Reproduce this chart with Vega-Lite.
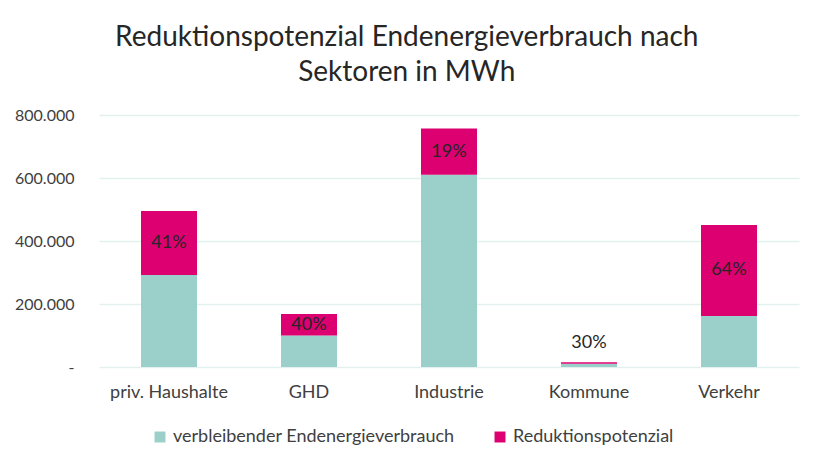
{
  "$schema": "https://vega.github.io/schema/vega-lite/v6.json",
  "width": 700,
  "height": 252,
  "padding": {"left": 14, "top": 24, "right": 20, "bottom": 10},
  "background": "white",
  "config": {
    "font": "Lato",
    "view": {"stroke": null}
  },
  "title": {
    "text": ["Reduktionspotenzial  Endenergieverbrauch  nach", "Sektoren in MWh"],
    "fontSize": 28,
    "fontWeight": "normal",
    "color": "#262626",
    "lineHeight": 35,
    "anchor": "middle",
    "frame": "bounds",
    "offset": 20
  },
  "data": {
    "values": [
      {"Sektor": "priv. Haushalte", "verbleibender Endenergieverbrauch": 292000, "Reduktionspotenzial": 203000, "Anteil": "41%"},
      {"Sektor": "GHD", "verbleibender Endenergieverbrauch": 100000, "Reduktionspotenzial": 68000, "Anteil": "40%"},
      {"Sektor": "Industrie", "verbleibender Endenergieverbrauch": 610000, "Reduktionspotenzial": 147000, "Anteil": "19%"},
      {"Sektor": "Kommune", "verbleibender Endenergieverbrauch": 10500, "Reduktionspotenzial": 4500, "Anteil": "30%"},
      {"Sektor": "Verkehr", "verbleibender Endenergieverbrauch": 162000, "Reduktionspotenzial": 289000, "Anteil": "64%"}
    ]
  },
  "encoding": {
    "x": {
      "field": "Sektor",
      "type": "nominal",
      "sort": null,
      "scale": {"paddingInner": 0.6, "paddingOuter": 0.3},
      "axis": {
        "title": null,
        "labelAngle": 0,
        "labelFontSize": 18,
        "labelColor": "#404040",
        "labelPadding": 16,
        "ticks": false,
        "domain": false
      }
    }
  },
  "layer": [
    {
      "transform": [
        {"fold": ["verbleibender Endenergieverbrauch", "Reduktionspotenzial"], "as": ["Serie", "Wert"]}
      ],
      "mark": {"type": "bar"},
      "encoding": {
        "y": {
          "field": "Wert",
          "type": "quantitative",
          "stack": "zero",
          "scale": {"domain": [0, 800000], "nice": false},
          "axis": {
            "title": null,
            "values": [0, 200000, 400000, 600000, 800000],
            "labelExpr": "datum.value == 0 ? '-' : replace(format(datum.value, ','), ',', '.')",
            "labelFontSize": 16,
            "labelColor": "#404040",
            "labelPadding": 25,
            "ticks": false,
            "domain": false,
            "grid": true,
            "gridColor": "#E2F1F0",
            "gridWidth": 1.5
          }
        },
        "color": {
          "field": "Serie",
          "type": "nominal",
          "scale": {
            "domain": ["verbleibender Endenergieverbrauch", "Reduktionspotenzial"],
            "range": ["#9BD0CA", "#DC0071"]
          },
          "legend": {
            "title": null,
            "orient": "none",
            "legendX": 52,
            "legendY": 313,
            "direction": "horizontal",
            "symbolType": "square",
            "symbolSize": 120,
            "symbolStrokeWidth": 0,
            "labelFontSize": 18,
            "labelColor": "#404040",
            "labelLimit": 400,
            "columnPadding": 36
          }
        },
        "order": {"field": "Serie", "sort": "descending"}
      }
    },
    {
      "transform": [
        {"calculate": "datum['verbleibender Endenergieverbrauch'] + datum['Reduktionspotenzial']", "as": "Gesamt"},
        {"calculate": "datum.Gesamt < 50000 ? datum.Gesamt + 62000 : datum['verbleibender Endenergieverbrauch'] + datum['Reduktionspotenzial'] / 2", "as": "Pos"}
      ],
      "mark": {"type": "text", "fontSize": 18, "color": "#262626", "baseline": "middle"},
      "encoding": {
        "y": {"field": "Pos", "type": "quantitative"},
        "text": {"field": "Anteil"}
      }
    }
  ]
}
